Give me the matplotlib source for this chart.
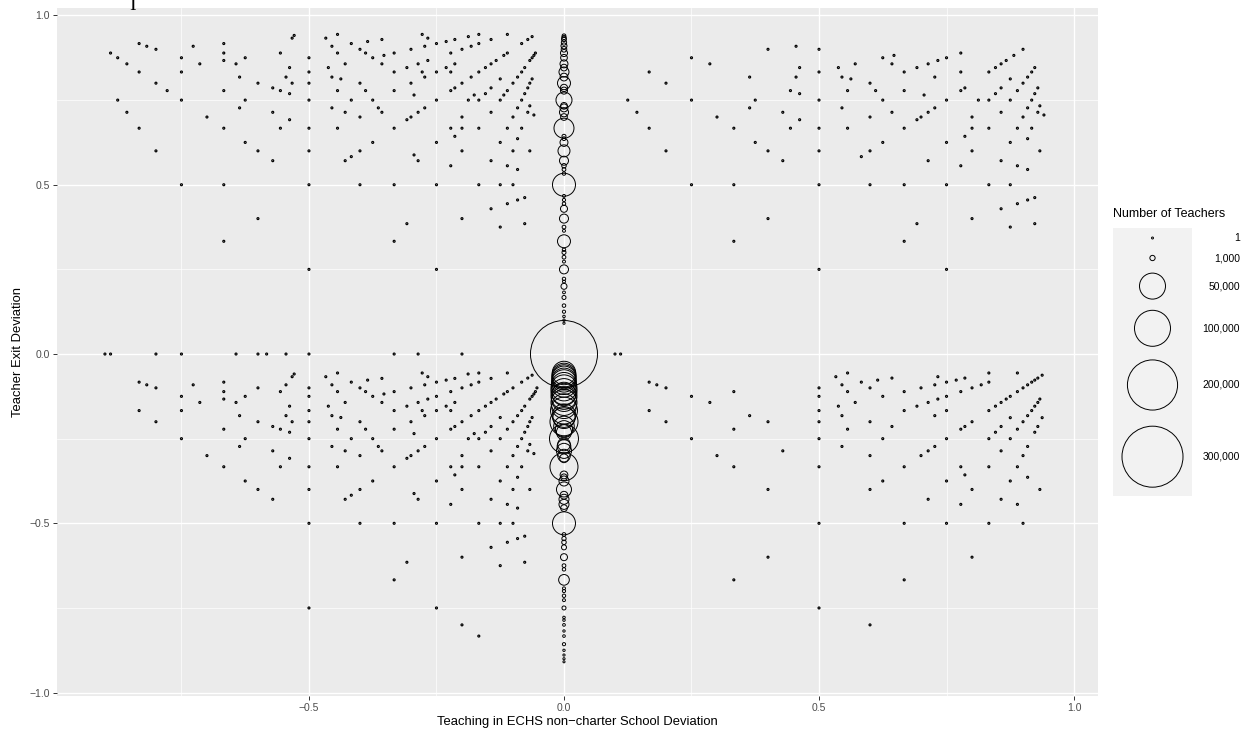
import numpy as np
import matplotlib.pyplot as plt

plt.rcParams['font.family'] = ['Liberation Sans', 'DejaVu Sans']

# ---- single-teacher cells, stored row by row: y value and the x values on that row ----
# upper left (x <= -0.5)
ul_y = [0.941, 0.933, 0.917, 0.909, 0.9, 0.889, 0.875, 0.867, 0.857, 0.846, 0.833, 0.818, 0.8,
        0.786, 0.778, 0.769, 0.75, 0.727, 0.714, 0.7, 0.692, 0.667, 0.625, 0.6, 0.571, 0.5, 0.4,
        0.333, 0.25]
ul_x = [[-0.529], [-0.533], [-0.833, -0.667], [-0.818, -0.727], [-0.8],
        [-0.889, -0.667, -0.556], [-0.875, -0.75, -0.625, -0.5], [-0.667],
        [-0.857, -0.714, -0.643], [-0.538], [-0.833, -0.75, -0.5], [-0.636, -0.545],
        [-0.8, -0.6, -0.533, -0.5], [-0.571], [-0.778, -0.667, -0.556], [-0.538],
        [-0.875, -0.75, -0.625, -0.5], [-0.636], [-0.857, -0.571], [-0.7], [-0.538],
        [-0.833, -0.667, -0.556, -0.5], [-0.625], [-0.8, -0.6, -0.5], [-0.571],
        [-0.75, -0.667, -0.5], [-0.6], [-0.667], [-0.5]]

# upper, between -0.5 and 0
um_y = [0.944, 0.9375, 0.933, 0.929, 0.923, 0.917, 0.909, 0.9, 0.889, 0.882, 0.875, 0.867, 0.857,
        0.846, 0.833, 0.818, 0.8125, 0.8, 0.786, 0.778, 0.769, 0.765, 0.75, 0.733, 0.727, 0.714,
        0.706, 0.7, 0.692, 0.667, 0.643, 0.636, 0.625, 0.6, 0.588, 0.583, 0.571, 0.556, 0.545,
        0.5, 0.462, 0.455, 0.444, 0.429, 0.4, 0.385, 0.375, 0.333, 0.25]
um_x = [[-0.444, -0.278, -0.167, -0.111], [-0.1875, -0.0625], [-0.467, -0.267],
        [-0.357, -0.214, -0.143, -0.071], [-0.385, -0.231], [-0.417, -0.25, -0.167, -0.083],
        [-0.455, -0.273, -0.182], [-0.4, -0.3, -0.2],
        [-0.444, -0.389, -0.333, -0.222, -0.111, -0.056], [-0.353, -0.118, -0.059],
        [-0.375, -0.0625], [-0.267, -0.133, -0.067], [-0.429, -0.357, -0.286, -0.214, -0.143],
        [-0.462, -0.308, -0.231, -0.154, -0.077], [-0.333, -0.278, -0.25, -0.222, -0.167, -0.083],
        [-0.455, -0.273, -0.182, -0.091], [-0.4375, -0.125, -0.0625],
        [-0.4, -0.3, -0.2, -0.1, -0.067], [-0.214, -0.143, -0.071],
        [-0.444, -0.389, -0.333, -0.222, -0.111], [-0.154, -0.077], [-0.294, -0.176, -0.118],
        [-0.417, -0.375, -0.25, -0.1875, -0.167, -0.125, -0.083], [-0.067],
        [-0.455, -0.364, -0.273, -0.091], [-0.429, -0.357, -0.286, -0.143, -0.071], [-0.059],
        [-0.4, -0.3, -0.2, -0.1], [-0.308], [-0.444, -0.333, -0.222, -0.2, -0.167, -0.111, -0.083],
        [-0.214], [-0.091], [-0.375, -0.25, -0.125], [-0.4, -0.2, -0.1, -0.067], [-0.294],
        [-0.417], [-0.429, -0.286, -0.143], [-0.222, -0.111], [-0.091],
        [-0.4, -0.333, -0.25, -0.167, -0.125, -0.1], [-0.077], [-0.091], [-0.111], [-0.143],
        [-0.2], [-0.308, -0.077], [-0.125], [-0.333], [-0.25]]

# upper, between 0 and 0.5
ur_y = [0.909, 0.9, 0.875, 0.857, 0.846, 0.833, 0.818, 0.8, 0.778, 0.769, 0.75, 0.727, 0.714,
        0.7, 0.692, 0.667, 0.625, 0.6, 0.571, 0.5, 0.4, 0.333, 0.25]
ur_x = [[0.455], [0.4, 0.5], [0.25], [0.286], [0.462], [0.167, 0.5], [0.364, 0.455], [0.2],
        [0.444], [0.462], [0.125, 0.25, 0.375, 0.5], [0.364], [0.143, 0.429], [0.3], [0.462],
        [0.167, 0.333, 0.444, 0.5], [0.375], [0.2, 0.4, 0.5], [0.429], [0.25, 0.333, 0.5],
        [0.4], [0.333], [0.5]]

# upper right (x > 0.5)
uf_y = [0.9, 0.889, 0.882, 0.875, 0.867, 0.857, 0.846, 0.833, 0.818, 0.8125, 0.8, 0.786, 0.778,
        0.769, 0.765, 0.75, 0.733, 0.727, 0.714, 0.706, 0.7, 0.692, 0.667, 0.643, 0.636, 0.625,
        0.6, 0.583, 0.571, 0.556, 0.545, 0.5, 0.462, 0.455, 0.444, 0.429, 0.4, 0.385, 0.375,
        0.333, 0.25]
uf_x = [[0.9], [0.778], [0.647, 0.882], [0.625, 0.75], [0.733, 0.867],
        [0.571, 0.643, 0.714, 0.857], [0.538, 0.692, 0.846, 0.923], [0.667, 0.778, 0.833, 0.917],
        [0.545, 0.727, 0.909], [0.5625, 0.875], [0.6, 0.9], [0.786, 0.857, 0.929],
        [0.556, 0.611, 0.667, 0.778, 0.889], [0.846, 0.923], [0.706],
        [0.625, 0.75, 0.8125, 0.833, 0.875, 0.917], [0.933], [0.545, 0.727, 0.909],
        [0.643, 0.714, 0.857, 0.929], [0.941], [0.6, 0.7, 0.8, 0.9], [0.692],
        [0.556, 0.667, 0.8, 0.833, 0.889, 0.917], [0.786], [0.909], [0.625, 0.75, 0.875],
        [0.6, 0.8, 0.933], [0.583], [0.714, 0.857], [0.778, 0.889], [0.909],
        [0.6, 0.667, 0.75, 0.833, 0.875], [0.923], [0.909], [0.889], [0.857], [0.8],
        [0.692, 0.923], [0.875], [0.667], [0.75]]

# lower left (x < 0)
ll_y = [0.0, -0.056, -0.059, -0.0625, -0.067, -0.071, -0.072, -0.077, -0.083, -0.091, -0.1,
        -0.111, -0.118, -0.125, -0.133, -0.143, -0.154, -0.167, -0.182, -0.1875, -0.2, -0.214,
        -0.222, -0.231, -0.235, -0.25, -0.267, -0.273, -0.286, -0.294, -0.3, -0.308, -0.333,
        -0.357, -0.364, -0.375, -0.4, -0.412, -0.417, -0.429, -0.444, -0.455, -0.5, -0.538,
        -0.545, -0.556, -0.571, -0.6, -0.615, -0.625, -0.667, -0.75, -0.8, -0.833]
ll_x = [[-0.9, -0.889, -0.8, -0.75, -0.643, -0.6, -0.583, -0.545, -0.5, -0.333, -0.286, -0.2],
        [-0.444, -0.278, -0.167, -0.111], [-0.529, -0.188], [-0.0625],
        [-0.533, -0.467, -0.267], [-0.071], [-0.357, -0.214, -0.143], [-0.385, -0.231],
        [-0.833, -0.667, -0.417, -0.25, -0.167, -0.083],
        [-0.818, -0.727, -0.545, -0.455, -0.273, -0.182],
        [-0.8, -0.6, -0.5, -0.4, -0.3, -0.2, -0.1, -0.053],
        [-0.667, -0.556, -0.444, -0.389, -0.333, -0.222, -0.111, -0.056], [-0.353, -0.118, -0.059],
        [-0.75, -0.625, -0.5, -0.375, -0.25, -0.0625], [-0.667, -0.267, -0.133, -0.067],
        [-0.714, -0.643, -0.429, -0.357, -0.286, -0.214, -0.143],
        [-0.538, -0.462, -0.308, -0.231, -0.154, -0.077],
        [-0.833, -0.75, -0.5, -0.333, -0.278, -0.25, -0.222, -0.167, -0.083],
        [-0.636, -0.545, -0.455, -0.273, -0.182, -0.091], [-0.4375, -0.125, -0.0625],
        [-0.8, -0.6, -0.533, -0.5, -0.4, -0.3, -0.2, -0.1, -0.067], [-0.571, -0.214, -0.143, -0.071],
        [-0.667, -0.556, -0.444, -0.389, -0.333, -0.222, -0.111], [-0.538, -0.154, -0.077],
        [-0.294, -0.176], [-0.75, -0.625, -0.5, -0.417, -0.375, -0.25, -0.1875, -0.167, -0.125, -0.083],
        [-0.067], [-0.636, -0.455, -0.364, -0.273, -0.091],
        [-0.571, -0.429, -0.357, -0.286, -0.143, -0.071], [-0.059], [-0.7, -0.4, -0.3, -0.2, -0.1],
        [-0.538, -0.308], [-0.667, -0.556, -0.5, -0.444, -0.333, -0.222, -0.2, -0.167, -0.111, -0.083],
        [-0.214], [-0.091], [-0.625, -0.375, -0.25, -0.125], [-0.6, -0.5, -0.4, -0.2, -0.1, -0.067],
        [-0.294], [-0.417], [-0.571, -0.429, -0.286, -0.143], [-0.222, -0.111], [-0.091],
        [-0.5, -0.4, -0.333, -0.25, -0.167, -0.125, -0.1], [-0.077], [-0.091], [-0.111], [-0.143],
        [-0.2], [-0.308, -0.077], [-0.125], [-0.333], [-0.5, -0.25], [-0.2], [-0.167]]

# lower right (x > 0)
lr_y = [0.0, -0.056, -0.0625, -0.067, -0.071, -0.077, -0.083, -0.091, -0.1, -0.111, -0.125,
        -0.133, -0.143, -0.154, -0.167, -0.182, -0.188, -0.2, -0.214, -0.222, -0.231, -0.25,
        -0.273, -0.286, -0.3, -0.333, -0.357, -0.364, -0.375, -0.4, -0.429, -0.444, -0.5,
        -0.6, -0.667, -0.75, -0.8]
lr_x = [[0.1, 0.111], [0.556, 0.833, 0.889], [0.9375], [0.533, 0.733], [0.643, 0.786, 0.929],
        [0.615, 0.769, 0.923], [0.167, 0.583, 0.75, 0.833, 0.917],
        [0.182, 0.545, 0.727, 0.818, 0.909], [0.2, 0.5, 0.6, 0.7, 0.8, 0.9],
        [0.333, 0.556, 0.667, 0.778, 0.889], [0.25, 0.5, 0.625, 0.75, 0.875],
        [0.733, 0.867, 0.933], [0.286, 0.571, 0.714, 0.857, 0.929], [0.538, 0.692, 0.846, 0.923],
        [0.167, 0.5, 0.667, 0.75, 0.833, 0.917], [0.364, 0.545, 0.727, 0.909], [0.875, 0.9375],
        [0.2, 0.4, 0.5, 0.6, 0.8, 0.9], [0.643, 0.786, 0.857, 0.929], [0.333, 0.556, 0.778, 0.889],
        [0.846, 0.923], [0.25, 0.5, 0.625, 0.75, 0.833, 0.875], [0.545, 0.727, 0.909],
        [0.429, 0.714, 0.857], [0.3, 0.6, 0.7, 0.9], [0.333, 0.5, 0.667, 0.778, 0.833, 0.889],
        [0.786], [0.909], [0.625, 0.75, 0.875], [0.4, 0.6, 0.8, 0.933], [0.714, 0.857],
        [0.778, 0.889], [0.5, 0.667, 0.75, 0.833, 0.9], [0.4, 0.8], [0.333, 0.667], [0.5], [0.6]]

# cells with no change in ECHS share (x = 0): exit deviation and teacher count
mid_y = [0.94, 0.935, 0.93, 0.92, 0.91, 0.9, 0.889, 0.875, 0.857, 0.846, 0.833, 0.818, 0.8,
         0.786, 0.778, 0.75, 0.733, 0.727, 0.714, 0.7, 0.667, 0.643, 0.636, 0.625, 0.6, 0.571,
         0.556, 0.545, 0.533, 0.5, 0.467, 0.455, 0.444, 0.429, 0.4, 0.375, 0.364, 0.333, 0.308,
         0.3, 0.286, 0.273, 0.25, 0.222, 0.214, 0.2, 0.182, 0.167, 0.143, 0.125, 0.111, 0.1,
         0.091, 0.0,
         -0.056, -0.0625, -0.067, -0.071, -0.077, -0.083, -0.091, -0.1, -0.111, -0.118, -0.125,
         -0.133, -0.143, -0.154, -0.167, -0.182, -0.1875, -0.2, -0.214, -0.222, -0.231, -0.25,
         -0.267, -0.273, -0.286, -0.3, -0.308, -0.333, -0.357, -0.364, -0.375, -0.4, -0.417,
         -0.429, -0.444, -0.455, -0.5, -0.533, -0.545, -0.556, -0.571, -0.6, -0.625, -0.636,
         -0.667, -0.692, -0.7, -0.714, -0.727, -0.75, -0.778, -0.786, -0.8, -0.818, -0.833,
         -0.857, -0.875, -0.889, -0.9, -0.909]
mid_n = [300, 500, 800, 1000, 1500, 1200, 2300, 2000, 3200, 2000, 5700, 3000, 10600,
         2500, 2300, 17200, 2000, 3200, 4400, 2000, 28200, 400, 300, 3200, 8800, 4400,
         600, 300, 200, 38300, 100, 150, 200, 2300, 4400, 300, 100, 10600, 200,
         400, 300, 100, 4400, 200, 100, 1480, 80, 400, 230, 150, 40, 20,
         10, 364000,
         40000, 42000, 42000, 42000, 42000, 45000, 45000, 50000, 50000, 40000, 50000,
         45000, 50000, 45000, 54000, 40000, 35000, 58600, 30000, 20000, 15000, 63000,
         10000, 12000, 15000, 10000, 4000, 58600, 3000, 2000, 5700, 14800, 3000,
         5700, 5700, 2000, 38300, 300, 500, 600, 850, 2270, 300, 200,
         6700, 100, 150, 200, 100, 400, 40, 30, 60, 20, 50,
         150, 20, 10, 10, 5]

legend_breaks = [1, 1000, 50000, 100000, 200000, 300000]
legend_labels = ['1', '1,000', '50,000', '100,000', '200,000', '300,000']

x_ticks = [-0.5, 0.0, 0.5, 1.0]
x_ticklabels = ['\u22120.5', '0.0', '0.5', '1.0']
y_ticks = [-1.0, -0.5, 0.0, 0.5, 1.0]
y_ticklabels = ['\u22121.0', '\u22120.5', '0.0', '0.5', '1.0']


def flatten(rows_y, rows_x):
    xs, ys = [], []
    for y, row in zip(rows_y, rows_x):
        for x in row:
            xs.append(x)
            ys.append(y)
    return xs, ys


def marker_area(n):
    # circle diameter grows with sqrt(count), like ggplot's area scale
    d_px = 1.85 + 0.108 * np.sqrt(np.asarray(n, dtype=float))
    return (d_px * 0.72) ** 2


W, H = 1251, 732
fig = plt.figure(figsize=(W / 100, H / 100), dpi=100)
fig.patch.set_facecolor('white')

pl, pr, pt, pb = 57, 1098, 8, 696
ax = fig.add_axes([pl / W, 1 - pb / H, (pr - pl) / W, (pb - pt) / H])
ax.set_facecolor('#EBEBEB')
for s in ax.spines.values():
    s.set_visible(False)

ax.set_xlim(-0.994, 1.047)
ax.set_ylim(-1.010, 1.022)

# grid
for v in [-0.75, -0.25, 0.25, 0.75]:
    ax.axvline(v, color='white', lw=0.5, zorder=0)
    ax.axhline(v, color='white', lw=0.5, zorder=0)
for v in x_ticks:
    ax.axvline(v, color='white', lw=1.0, zorder=0)
for v in y_ticks:
    ax.axhline(v, color='white', lw=1.0, zorder=0)

xs, ys = [], []
for ry, rx in [(ul_y, ul_x), (um_y, um_x), (ur_y, ur_x), (uf_y, uf_x),
               (ll_y, ll_x), (lr_y, lr_x)]:
    a, b = flatten(ry, rx)
    xs += a
    ys += b
ax.scatter(xs, ys, s=marker_area(np.ones(len(xs))), facecolors='none',
           edgecolors='black', linewidths=0.85, zorder=3)

mid_x = np.zeros(len(mid_y))
ax.scatter(mid_x, mid_y, s=marker_area(mid_n), facecolors='none',
           edgecolors='black', linewidths=0.7, zorder=3)

ax.set_xticks(x_ticks)
ax.set_xticklabels(x_ticklabels)
ax.set_yticks(y_ticks)
ax.set_yticklabels(y_ticklabels)
ax.tick_params(axis='both', length=3, width=0.7, color='#333333',
               labelcolor='#4D4D4D', labelsize=7.5, pad=2)
ax.set_xlabel('Teaching in ECHS non\u2212charter School Deviation', fontsize=9.4, labelpad=2)
ax.set_ylabel('Teacher Exit Deviation', fontsize=9.4, labelpad=4)

# legend
lx0, lx1, ly0 = 1113, 1192, 228
key_d = 1.85 + 0.108 * np.sqrt(np.array(legend_breaks, dtype=float))
key_h = np.maximum(20, key_d * 1.2 + 5)
ly1 = ly0 + key_h.sum()
lax = fig.add_axes([lx0 / W, 1 - ly1 / H, (lx1 - lx0) / W, (ly1 - ly0) / H])
lax.set_facecolor('#F2F2F2')
lax.set_xlim(0, 1)
lax.set_ylim(ly1, ly0)
lax.set_xticks([])
lax.set_yticks([])
for s in lax.spines.values():
    s.set_visible(False)
centers = ly0 + np.cumsum(key_h) - key_h / 2
lax.scatter(np.full(len(legend_breaks), 0.5), centers, s=marker_area(legend_breaks),
            facecolors='none', edgecolors='black', linewidths=0.7, clip_on=False)
for c, lab in zip(centers, legend_labels):
    fig.text(1240 / W, 1 - c / H, lab, ha='right', va='center', fontsize=7.5, color='black')
fig.text(1113 / W, 1 - 214 / H, 'Number of Teachers', ha='left', va='center', fontsize=9.0)

# clipped title glyph at the very top
fig.text(133 / W, 1 - 10 / H, 'I', ha='center', va='baseline', fontsize=14,
         family='Liberation Serif')

fig.savefig('out.png', dpi=100)
